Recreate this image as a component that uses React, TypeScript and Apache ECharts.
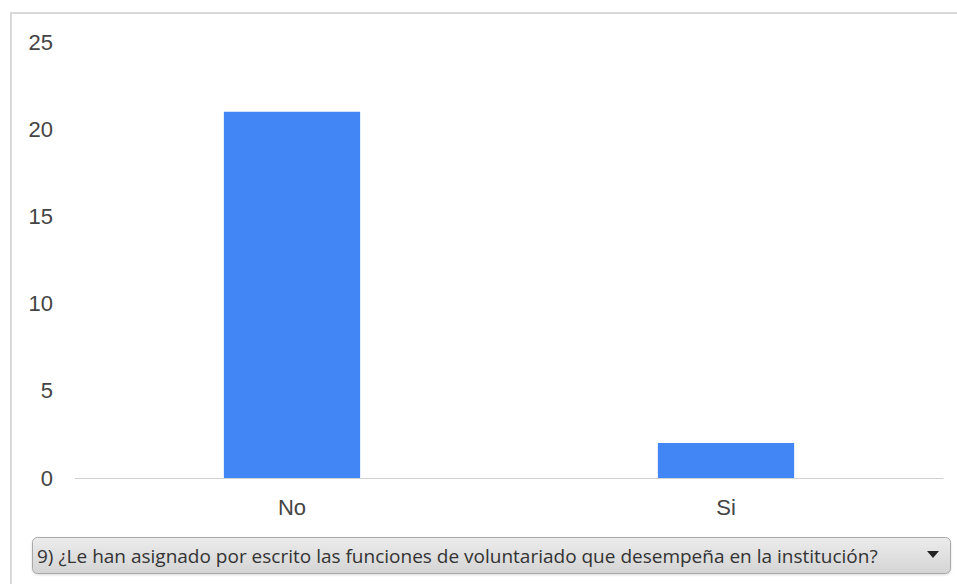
import React, { useEffect, useRef } from "react";
import * as echarts from "echarts";

const categories = ["No", "Si"];
const counts = [21, 2];
const yTicks = { min: 0, max: 25, interval: 5 };
const questionText =
  "9) ¿Le han asignado por escrito las funciones de voluntariado que desempeña en la institución?";

export default function App() {
  const ref = useRef<HTMLDivElement>(null);

  useEffect(() => {
    if (!ref.current) return;
    const chart = echarts.init(ref.current, null, { renderer: "svg" });
    chart.setOption({
      animation: false,
      backgroundColor: "#ffffff",
      grid: { left: 75, right: 14, top: 42, bottom: 106 },
      xAxis: {
        type: "category",
        data: categories,
        axisLine: { show: true, lineStyle: { color: "#d0d0d0", width: 1 } },
        axisTick: { show: false },
        axisLabel: {
          color: "#444444",
          fontFamily: "Liberation Sans, Arial, sans-serif",
          fontSize: 22,
          margin: 18,
        },
      },
      yAxis: {
        type: "value",
        min: yTicks.min,
        max: yTicks.max,
        interval: yTicks.interval,
        axisLine: { show: false },
        axisTick: { show: false },
        splitLine: { show: false },
        axisLabel: {
          color: "#444444",
          fontFamily: "Liberation Sans, Arial, sans-serif",
          fontSize: 22,
          margin: 22,
        },
      },
      series: [
        {
          type: "bar",
          data: counts,
          barWidth: "31.4%",
          itemStyle: { color: "#4285f4" },
        },
      ],
      graphic: [
        {
          type: "rect",
          silent: true,
          z: -1,
          shape: { x: 11, y: 13, width: 960, height: 600 },
          style: { fill: "none", stroke: "#d9d9d9", lineWidth: 2 },
        },
        {
          type: "rect",
          shape: { x: 32.5, y: 537.5, width: 918, height: 36, r: 5 },
          style: {
            fill: new echarts.graphic.LinearGradient(0, 0, 0, 1, [
              { offset: 0, color: "#ececec" },
              { offset: 1, color: "#d4d4d4" },
            ]),
            stroke: "#a9a9a9",
            lineWidth: 1,
            shadowColor: "rgba(0,0,0,0.15)",
            shadowBlur: 2,
            shadowOffsetY: 1,
          },
        },
        {
          type: "text",
          x: 37,
          y: 556,
          style: {
            text: questionText,
            fill: "#333333",
            fontFamily: "Open Sans, Noto Sans, sans-serif",
            fontSize: 19,
            verticalAlign: "middle",
            align: "left",
          },
        },
        {
          type: "polygon",
          shape: {
            points: [
              [927, 551],
              [939, 551],
              [933, 558],
            ],
          },
          style: { fill: "#222222" },
        },
      ],
    });
    return () => chart.dispose();
  }, []);

  return (
    <div
      ref={ref}
      style={{ position: "fixed", left: 0, top: 0, width: 957, height: 584 }}
    />
  );
}
